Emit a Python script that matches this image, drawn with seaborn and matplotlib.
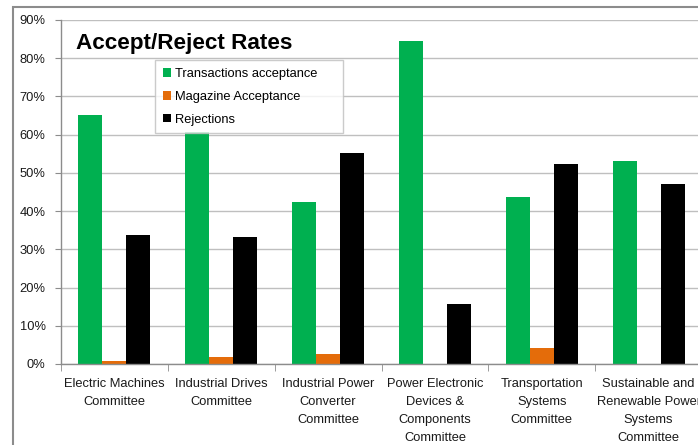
import numpy as np
import pandas as pd
import matplotlib
matplotlib.use('Agg')
import matplotlib.pyplot as plt
from matplotlib.ticker import PercentFormatter
from matplotlib.patches import Rectangle
import seaborn as sns

plt.rcParams['font.family'] = ['Liberation Sans', 'DejaVu Sans']

committees = ['Electric Machines\nCommittee',
              'Industrial Drives\nCommittee',
              'Industrial Power\nConverter\nCommittee',
              'Power Electronic\nDevices &\nComponents\nCommittee',
              'Transportation\nSystems\nCommittee',
              'Sustainable and\nRenewable Power\nSystems\nCommittee']
series = ['Transactions acceptance', 'Magazine Acceptance', 'Rejections']
transactions = [0.652, 0.607, 0.425, 0.845, 0.436, 0.531]
magazine = [0.008, 0.018, 0.025, 0.0, 0.043, 0.0]
rejections = [0.338, 0.333, 0.551, 0.158, 0.523, 0.471]
yticks = [0, 0.1, 0.2, 0.3, 0.4, 0.5, 0.6, 0.7, 0.8, 0.9]

colors = ['#00B050', '#E46C0A', '#000000']

df = pd.DataFrame({
    'committee': committees * 3,
    'series': np.repeat(series, len(committees)),
    'rate': transactions + magazine + rejections,
})

W, H = 698, 445
fig = plt.figure(figsize=(W / 100, H / 100), dpi=100)
ax = fig.add_axes([61 / W, 81 / H, (702 - 61) / W, 344 / H])

sns.barplot(data=df, x='committee', y='rate', hue='series', palette=colors,
            width=0.675, saturation=1, linewidth=0, ax=ax)

ax.set_xlim(-0.5, 5.5)
ax.set_ylim(0, 0.9)
ax.set_yticks(yticks)
ax.yaxis.set_major_formatter(PercentFormatter(1.0, decimals=0))
ax.set_xlabel('')
ax.set_ylabel('')

ax.set_xticks(np.arange(-0.5, 6, 1), minor=True)
ax.tick_params(axis='x', which='major', length=0, pad=10, labelsize=9.3, labelcolor='#1a1a1a')
ax.tick_params(axis='x', which='minor', length=5, color='#8c8c8c')
ax.tick_params(axis='y', length=4, color='#8c8c8c', pad=7, labelsize=9.3, labelcolor='#1a1a1a')
for lbl in ax.get_xticklabels():
    lbl.set_linespacing(1.68)

ax.yaxis.grid(True, color='#BFBFBF', lw=1)
ax.set_axisbelow(True)
for s in ['top', 'right']:
    ax.spines[s].set_visible(False)
for s in ['left', 'bottom']:
    ax.spines[s].set_color('#8c8c8c')
    ax.spines[s].set_linewidth(1)

leg = ax.legend(loc='upper left', bbox_to_anchor=(155 / W, 1 - 60 / H, 188 / W, 0),
                bbox_transform=fig.transFigure, mode='expand', borderaxespad=0,
                fontsize=9.3, frameon=True, fancybox=False, edgecolor='#BFBFBF',
                handlelength=0.65, handleheight=0.65, handletextpad=0.3,
                labelspacing=0.85, borderpad=0.6)
leg.get_frame().set_linewidth(1)

fig.text(76 / W, 1 - 43 / H, 'Accept/Reject Rates', fontsize=16.2,
         fontweight='bold', va='center', ha='left')

fig.patches.append(Rectangle((13 / W, -0.1), 1.2, 1.1 - 7 / H, transform=fig.transFigure,
                             fill=False, edgecolor='#8c8c8c', lw=1.5, figure=fig))

fig.savefig('out.png', dpi=100)
